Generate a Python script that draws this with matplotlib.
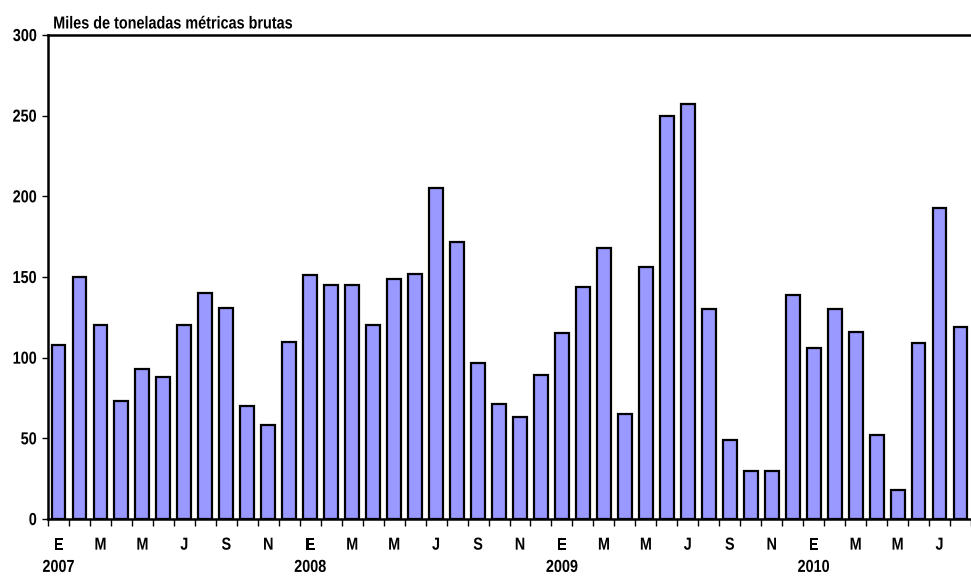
import matplotlib
matplotlib.use("Agg")
import matplotlib.pyplot as plt
from matplotlib.patheffects import AbstractPathEffect
from matplotlib.transforms import Affine2D
import numpy as np

plt.rcParams['font.family'] = ['Liberation Sans', 'DejaVu Sans']

values = [108, 150, 120, 73, 93, 88, 120, 140, 131, 70, 58, 110,
          151, 145, 145, 120, 149, 152, 205, 172, 97, 71, 63, 89,
          115, 144, 168, 65, 156, 250, 257, 130, 49, 30, 30, 139,
          106, 130, 116, 52, 18, 109, 193, 119]
month_letters = ["E", "F", "M", "A", "M", "J", "J", "A", "S", "O", "N", "D"]
years = ["2007", "2008", "2009", "2010"]
ylabel_text = "Miles de toneladas métricas brutas"
yticks = [0, 50, 100, 150, 200, 250, 300]


class Squeeze(AbstractPathEffect):
    """Horizontally condense glyphs (narrow-font look) about an anchor."""
    def __init__(self, sx=0.83, anchor="left"):
        super().__init__()
        self.sx = sx
        self.anchor = anchor

    def draw_path(self, renderer, gc, tpath, affine, rgbFace=None):
        ext = tpath.get_extents()
        if self.anchor == "left":
            a = ext.x0
        elif self.anchor == "right":
            a = ext.x1
        else:
            a = 0.5 * (ext.x0 + ext.x1)
        t = Affine2D().translate(-a, 0).scale(self.sx, 1).translate(a, 0)
        renderer.draw_path(gc, tpath, t + affine, rgbFace)


SX = 0.83
FS = 12.5

W, H = 971, 576
fig = plt.figure(figsize=(W/100, H/100), dpi=100)
ax = fig.add_axes([48/W, 1-519/H, (W-48)/W, (519-35)/H])

x = np.arange(len(values))
ax.bar(x, values, width=0.66, color="#9999FF", edgecolor="black", linewidth=1.6, zorder=3)

ax.set_xlim(-0.5, 42.83)
ax.set_ylim(0, 300)
for s in ["left", "top", "bottom"]:
    ax.spines[s].set_linewidth(1.8)
ax.spines["right"].set_visible(False)

ax.set_yticks(yticks)
ax.set_yticklabels([str(v) for v in yticks], fontsize=FS, fontweight="bold")
ax.tick_params(axis="y", direction="out", length=4, width=1, pad=4)
for t in ax.get_yticklabels():
    t.set_path_effects([Squeeze(SX, "right")])

# month boundary ticks
ax.set_xticks(np.arange(len(values)+1) - 0.5)
ax.set_xticklabels([])
ax.tick_params(axis="x", direction="out", length=5, width=1)

trans = ax.get_xaxis_transform()
for i in range(len(values)):
    m = i % 12
    if m % 2 == 0:
        ax.text(i, -0.054, month_letters[m], transform=trans, ha="center", va="center",
                fontsize=FS, fontweight="bold", path_effects=[Squeeze(SX, "center")])
    if m == 0:
        ax.text(i, -0.1, years[i // 12], transform=trans, ha="center", va="center",
                fontsize=FS, fontweight="bold", path_effects=[Squeeze(SX, "center")])

fig.text(53/W, 1-24/H, ylabel_text, ha="left", va="center", fontsize=FS, fontweight="bold",
         path_effects=[Squeeze(SX, "left")])

fig.savefig("out.png", dpi=100)
